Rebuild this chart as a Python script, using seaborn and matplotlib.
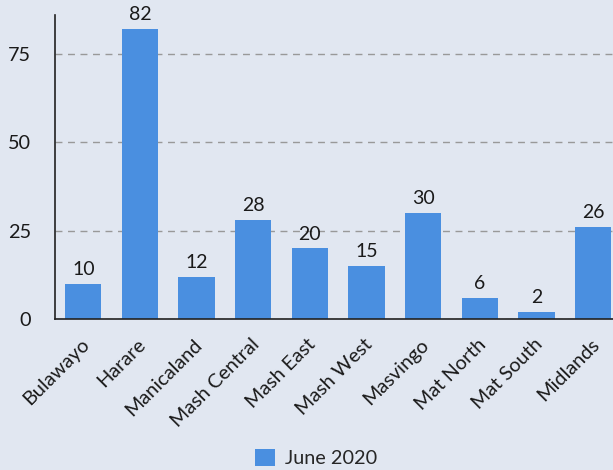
import matplotlib
matplotlib.use("Agg")
import matplotlib.pyplot as plt
import matplotlib.transforms as mtransforms
import seaborn as sns
import pandas as pd

regions = ["Bulawayo", "Harare", "Manicaland", "Mash Central", "Mash East",
           "Mash West", "Masvingo", "Mat North", "Mat South", "Midlands"]
values = [10, 82, 12, 28, 20, 15, 30, 6, 2, 26]
series_name = "June 2020"
yticks = [0, 25, 50, 75]

bg = "#e1e7f1"
bar_color = "#4a8fe0"
text_color = "#1a1a1a"

sns.set_theme(style="white")
plt.rcParams['font.family'] = ['Lato', 'DejaVu Sans']

df = pd.DataFrame({"region": regions, "value": values, "series": series_name})

fig = plt.figure(figsize=(6.13, 4.70), dpi=100, facecolor=bg)
ax = fig.add_axes([55/613, 1 - 319/470, (613-55)/613, (319-15)/470])
ax.set_facecolor(bg)

sns.barplot(data=df, x="region", y="value", hue="series", palette=[bar_color],
            width=0.64, ax=ax, saturation=1, linewidth=0, edgecolor="none")

for i, v in enumerate(values):
    ax.text(i, v + 1.6, str(v), ha="center", va="bottom", fontsize=14, color=text_color)

ax.set_ylim(0, 86)
ax.set_xlim(-0.5, 9.35)
ax.set_yticks(yticks)
ax.set_yticklabels([str(t) for t in yticks], fontsize=14.3, color=text_color)
ax.yaxis.grid(True, linestyle=(0, (5, 4)), color="#999999", linewidth=1)
ax.set_axisbelow(True)
ax.tick_params(axis="y", length=0, pad=17.5)
ax.tick_params(axis="x", length=0, pad=12)
offset = mtransforms.ScaledTranslation(-3/100, 0, fig.dpi_scale_trans)
for lbl in ax.get_xticklabels():
    lbl.set_rotation(45)
    lbl.set_ha("right")
    lbl.set_rotation_mode("anchor")
    lbl.set_fontsize(14.3)
    lbl.set_color(text_color)
    lbl.set_transform(lbl.get_transform() + offset)
ax.set_xlabel("")
ax.set_ylabel("")
for s in ["top", "right"]:
    ax.spines[s].set_visible(False)
for s in ["left", "bottom"]:
    ax.spines[s].set_color("#222222")
    ax.spines[s].set_linewidth(1.2)

ax.legend_.remove()
handles, labels = ax.get_legend_handles_labels()
fig.legend(handles, labels, loc="center", bbox_to_anchor=(316/613, 1 - 458/470),
           frameon=False, fontsize=14.3, handlelength=1.0, handleheight=1.0,
           handletextpad=0.5)

fig.savefig("out.png", dpi=100, facecolor=bg)
